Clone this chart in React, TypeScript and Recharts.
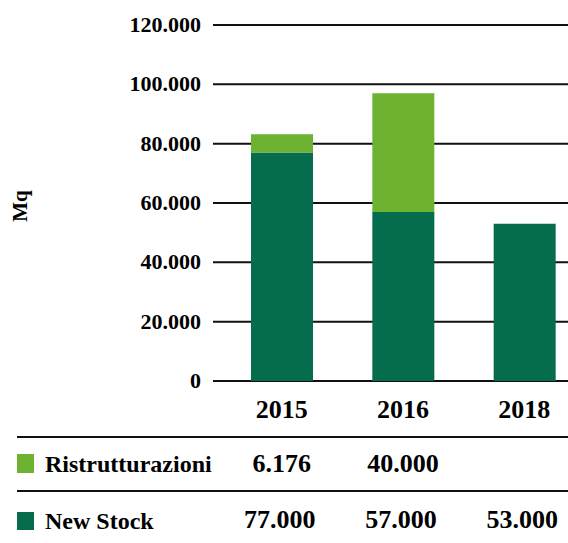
import { BarChart, Bar, XAxis, YAxis, CartesianGrid, Customized } from "recharts";

const years = ["2015", "2016", "2018"];
const newStock = [77000, 57000, 53000];
const ristrutturazioni: (number | null)[] = [6176, 40000, null];
const yTicks = [0, 20000, 40000, 60000, 80000, 100000, 120000];

const DARK = "#066c4e";
const LIGHT = "#6db331";
const textStyle = { fontFamily: '"Liberation Serif", "Times New Roman", serif', fontWeight: 700 };

const data = years.map((year, i) => ({
  year,
  newStock: newStock[i],
  ristrutturazioni: ristrutturazioni[i],
}));

const fmt = (v: number) => String(v).replace(/\B(?=(\d{3})+(?!\d))/g, ".");

// x-axis tick also prints the two table rows under each year
function YearTick(props: any) {
  const { x, y, payload } = props;
  const i = payload.index;
  const r = ristrutturazioni[i];
  return (
    <g fill="#000">
      <text x={x} y={y + 37} textAnchor="middle" fontSize={26} style={textStyle}>
        {payload.value}
      </text>
      {r != null && (
        <text x={x} y={y + 91} textAnchor="middle" fontSize={26} style={textStyle}>
          {fmt(r)}
        </text>
      )}
      <text x={x - 2} y={y + 147} textAnchor="middle" fontSize={26} style={textStyle}>
        {fmt(newStock[i])}
      </text>
    </g>
  );
}

function YTick(props: any) {
  const { x, y, payload } = props;
  return (
    <text x={x} y={y + 7} textAnchor="end" fontSize={22} fill="#000" style={textStyle}>
      {fmt(payload.value)}
    </text>
  );
}

function TableFrame() {
  return (
    <g fill="#000">
      <line x1={17} x2={568} y1={437} y2={437} stroke="#111" strokeWidth={2} />
      <line x1={17} x2={568} y1={491} y2={491} stroke="#111" strokeWidth={2} />
      <rect x={17} y={454} width={17} height={19} fill={LIGHT} />
      <text x={45} y={472} fontSize={24} style={textStyle}>Ristrutturazioni</text>
      <rect x={17} y={512} width={17} height={18} fill={DARK} />
      <text x={45} y={529} fontSize={24} style={textStyle}>New Stock</text>
      <text x={0} y={0} transform="translate(27 206) rotate(-90)" textAnchor="middle" fontSize={21} style={textStyle}>
        Mq
      </text>
    </g>
  );
}

export default function App() {
  return (
    <div style={{ position: "absolute", left: 0, top: 0, width: 568, height: 543, overflow: "hidden", background: "#fff" }}>
      <BarChart width={585} height={543} data={data} margin={{ top: 25, right: 0, left: 0, bottom: 0 }}>
        <CartesianGrid vertical={false} stroke="#111" strokeWidth={2} />
        <XAxis
          dataKey="year"
          height={162}
          axisLine={false}
          tickLine={false}
          tickSize={0}
          tickMargin={0}
          padding={{ left: 8, right: 0 }}
          tick={<YearTick />}
          interval={0}
        />
        <YAxis
          width={213}
          domain={[0, 120000]}
          ticks={yTicks}
          axisLine={false}
          tickLine={false}
          tickSize={0}
          tickMargin={12}
          tick={<YTick />}
        />
        <Bar dataKey="newStock" stackId="a" fill={DARK} barSize={62} isAnimationActive={false} />
        <Bar dataKey="ristrutturazioni" stackId="a" fill={LIGHT} barSize={62} isAnimationActive={false} />
        <Customized component={TableFrame} />
      </BarChart>
    </div>
  );
}
